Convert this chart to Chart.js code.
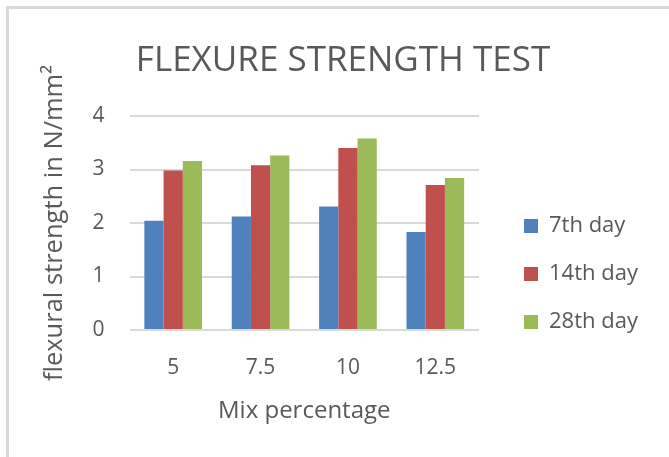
<!DOCTYPE html>
<html>
<head>
<meta charset="utf-8">
<title>Flexure strength test</title>
<script src="https://cdn.jsdelivr.net/npm/chart.js"></script>
<style>
  body { margin: 0; background: #fff; }
  #frame {
    position: absolute; left: 6px; top: 6px; width: 663px; height: 451px;
    border-left: 3px solid #d9d9d9; border-top: 3px solid #d9d9d9;
  }
  canvas { position: absolute; left: 0; top: 0; }
</style>
</head>
<body>
<div id="frame"></div>
<canvas id="flexChart" width="669" height="457"></canvas>
<script>
const mixLabels = ["5", "7.5", "10", "12.5"];
const day7 = [2.04, 2.12, 2.31, 1.83];
const day14 = [2.98, 3.08, 3.40, 2.71];
const day28 = [3.16, 3.26, 3.58, 2.84];
const seriesNames = ["7th day", "14th day", "28th day"];
const barColors = ["#4f81bd", "#c0504d", "#9bbb59"];

const textColor = "#595959";
Chart.defaults.font.family = "'Open Sans', sans-serif";
Chart.defaults.color = textColor;

// legend sits a bit away from the plot, like the Excel original
const legendPlace = {
  id: "legendPlace",
  beforeLayout(chart) {
    const lg = chart.legend;
    if (lg && !lg._fixedFit) {
      const fit = lg.fit;
      lg.fit = function () { fit.call(this); this.width = 190; };
      lg._fixedFit = true;
    }
  },
  afterLayout(chart) {
    const lg = chart.legend;
    lg.left += 19; lg.right += 19;
    lg.top += 61; lg.bottom += 61;
  }
};

const seriesData = [day7, day14, day28];

new Chart(document.getElementById("flexChart"), {
  type: "bar",
  data: {
    labels: mixLabels,
    datasets: seriesNames.map((name, i) => ({
      label: name,
      data: seriesData[i],
      backgroundColor: barColors[i],
      categoryPercentage: 0.66,
      barPercentage: 1.0
    }))
  },
  options: {
    responsive: false,
    animation: false,
    layout: { padding: { left: 17, right: 0, top: 0, bottom: 31 } },
    plugins: {
      title: {
        display: true,
        text: "FLEXURE STRENGTH TEST",
        color: textColor,
        font: { size: 35, weight: "normal" },
        padding: { top: 40, bottom: 34 }
      },
      legend: {
        position: "right",
        labels: {
          color: textColor,
          font: { size: 22 },
          boxWidth: 14,
          boxHeight: 14,
          padding: 26
        }
      },
      tooltip: { enabled: false }
    },
    scales: {
      x: {
        grid: { display: false },
        border: { display: false },
        ticks: { font: { size: 21 }, padding: 17, color: textColor },
        title: {
          display: true,
          text: "Mix percentage",
          color: textColor,
          font: { size: 24 },
          padding: { top: 0, bottom: 0 }
        }
      },
      y: {
        min: 0,
        max: 4,
        ticks: { stepSize: 1, font: { size: 21 }, padding: 25, color: textColor },
        grid: { color: "#d9d9d9", lineWidth: 2, drawTicks: false },
        border: { display: false },
        title: {
          display: true,
          text: "flexural strength in N/mm²",
          color: textColor,
          font: { size: 25.5, lineHeight: 1.0 },
          padding: { top: 25, bottom: 0 }
        }
      }
    }
  },
  plugins: [legendPlace]
});
</script>
</body>
</html>
